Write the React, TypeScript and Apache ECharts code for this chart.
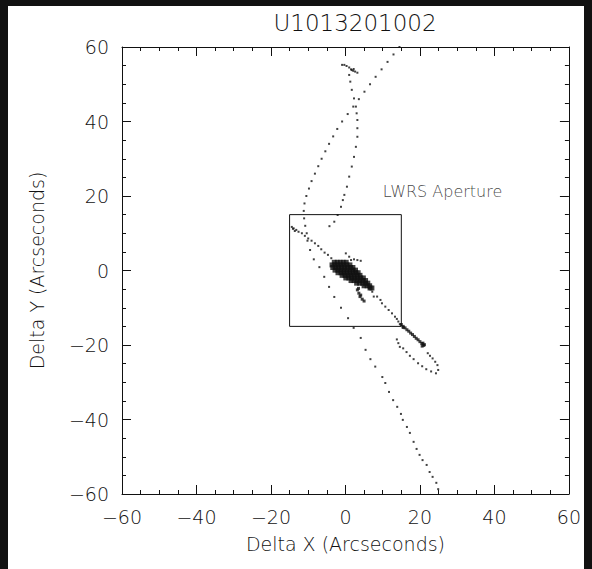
import React, { useEffect, useRef } from "react";
import * as echarts from "echarts";

const TITLE = "U1013201002";
const X_NAME = "Delta X (Arcseconds)";
const Y_NAME = "Delta Y (Arcseconds)";
const APERTURE_LABEL = "LWRS Aperture";
const AXIS_MIN = -60;
const AXIS_MAX = 60;
const AXIS_STEP = 20;
const APERTURE_HALF = 15;

// squiggle at the top
const topSquiggle: number[][] = [
  [-0.9, 55.2], [-0.3, 55.2], [0.3, 54.9], [1.0, 54.5], [1.5, 54.0], [2.1, 53.6],
  [2.6, 53.4], [3.2, 53.1], [1.7, 53.8], [2.2, 54.1],
];

// long dotted arc from top-right, bending left, down to bottom
const arcA: number[][] = [
  [14.5, 60.0], [12.9, 58.0], [11.3, 56.0], [9.7, 54.0], [8.1, 52.0], [6.6, 50.0],
  [5.1, 48.0], [3.6, 46.0], [2.1, 44.0], [0.6, 42.0], [-0.9, 40.0], [-2.2, 38.0],
  [-3.3, 36.0], [-4.4, 34.0], [-5.4, 32.0], [-6.4, 30.0], [-7.3, 28.0], [-8.2, 26.0],
  [-9.1, 24.0], [-9.8, 22.0], [-10.5, 20.0], [-11.0, 18.0], [-11.2, 16.0], [-11.1, 14.0],
  [-10.8, 12.0], [-10.4, 10.0], [-10.2, 8.0], [-9.5, 5.5], [-8.5, 3.0], [-7.0, 0.9],
  [-5.7, -1.7], [-4.4, -4.4], [-3.0, -7.1], [-1.2, -10.0], [0.7, -12.8], [2.2, -15.4],
  [4.1, -18.1], [5.4, -21.3], [6.7, -23.8], [8.0, -25.8], [9.9, -28.6], [10.7, -30.2],
  [11.7, -32.6], [12.8, -34.8], [13.9, -36.6], [14.9, -38.5], [15.4, -40.1], [16.5, -42.0],
  [17.3, -43.6], [18.3, -46.0], [19.1, -47.9], [19.9, -49.5], [20.7, -50.9], [21.8, -52.2],
  [22.6, -54.1], [23.4, -55.4], [24.4, -57.0], [24.9, -58.7],
];

// dotted line from the top squiggle down into the aperture
const arcB: number[][] = [
  [1.0, 52.5], [1.3, 50.7], [1.7, 48.5], [2.3, 46.2], [2.8, 44.0], [3.0, 42.2],
  [3.2, 40.4], [3.2, 38.2], [3.2, 35.9], [2.8, 33.2], [2.3, 30.5], [1.7, 27.9],
  [1.0, 25.2], [0.4, 22.5], [-0.3, 20.3], [-0.7, 18.9], [-1.2, 17.1], [-2.1, 14.9],
  [-3.0, 13.1], [-4.3, 11.9],
];

// arrow and diagonal from aperture corner into the core
const diagIn: number[][] = [
  [-14.4, 11.7], [-14.1, 11.2], [-13.9, 11.3], [-13.6, 10.6], [-13.2, 10.9], [-12.6, 10.4],
  [-11.7, 10.0], [-10.9, 9.3], [-10.0, 8.6], [-9.1, 8.0], [-8.2, 7.3], [-7.3, 6.6],
  [-6.5, 5.7], [-5.6, 4.8], [-4.7, 4.2], [-3.8, 3.3],
];

// dense core of the pointing
const core: number[][] = [
  [-3.0, 2.2], [-2.2, 2.2], [-1.4, 2.2], [-0.6, 2.2], [0.2, 2.2],
  [-3.6, 1.5], [-2.8, 1.5], [-2.0, 1.5], [-1.2, 1.5], [-0.4, 1.5], [0.4, 1.5], [1.2, 1.5],
  [-3.4, 0.8], [-2.6, 0.8], [-1.8, 0.8], [-1.0, 0.8], [-0.2, 0.8], [0.6, 0.8], [1.4, 0.8], [2.0, 0.8],
  [-2.8, 0.1], [-2.0, 0.1], [-1.2, 0.1], [-0.4, 0.1], [0.4, 0.1], [1.2, 0.1], [2.0, 0.1], [2.7, 0.1],
  [-2.0, -0.6], [-1.2, -0.6], [-0.4, -0.6], [0.4, -0.6], [1.2, -0.6], [2.0, -0.6], [2.8, -0.6], [3.4, -0.6],
  [-0.9, -1.3], [-0.1, -1.3], [0.7, -1.3], [1.5, -1.3], [2.3, -1.3], [3.1, -1.3], [3.9, -1.3],
  [0.1, -2.0], [0.9, -2.0], [1.7, -2.0], [2.5, -2.0], [3.3, -2.0], [4.1, -2.0], [4.8, -2.0],
  [1.5, -2.7], [2.3, -2.7], [3.1, -2.7], [3.9, -2.7], [4.7, -2.7], [5.4, -2.7],
  [3.0, -3.4], [3.8, -3.4], [4.6, -3.4], [5.4, -3.4], [6.0, -3.4],
  [5.0, -4.1], [5.8, -4.1], [6.5, -4.1],
  [6.6, -4.7], [7.1, -4.7],
];

// small features near the core
const wing: number[][] = [
  [0.1, 4.6], [1.0, 3.7], [1.5, 2.8], [2.3, 3.0], [3.2, 2.8], [4.1, 2.6],
];
const tailBelow: number[][] = [
  [3.5, -4.8], [3.2, -5.2], [3.6, -6.1], [4.1, -6.6], [3.9, -7.0], [4.5, -7.7], [5.0, -8.2],
];

// trail from core to aperture corner
const trailOut: number[][] = [
  [6.3, -4.8], [7.2, -5.7], [7.6, -7.0], [8.5, -7.0], [9.4, -7.9], [9.8, -8.8],
  [10.7, -9.7], [11.6, -10.6], [12.5, -11.5], [13.3, -12.4], [13.8, -13.0], [14.2, -13.7],
  [14.6, -14.4],
];

// heavy segment ending in an arrow head
const heavyOut: number[][] = [
  [15.0, -14.5], [15.5, -15.0], [15.5, -15.3], [16.0, -15.4], [16.5, -15.9], [17.0, -16.3],
  [17.5, -16.8], [18.0, -17.2], [18.5, -17.7], [19.0, -18.2], [19.5, -18.6], [20.0, -19.1],
  [20.5, -19.6], [21.0, -20.1], [20.8, -19.5], [21.2, -19.9], [20.6, -20.3],
];

// dotted loop at lower right
const loop: number[][] = [
  [13.8, -18.5], [14.2, -19.5], [14.6, -20.5], [15.5, -20.9], [16.4, -21.9], [17.3, -22.9],
  [18.3, -23.8], [19.5, -24.9], [20.6, -25.7], [21.7, -26.5], [23.0, -27.1], [24.3, -27.6],
  [24.9, -26.7], [24.7, -25.4], [24.1, -24.5], [23.4, -23.6], [22.7, -22.9], [22.1, -22.2],
];

const aperture: number[][] = [
  [-APERTURE_HALF, -APERTURE_HALF], [APERTURE_HALF, -APERTURE_HALF],
  [APERTURE_HALF, APERTURE_HALF], [-APERTURE_HALF, APERTURE_HALF],
  [-APERTURE_HALF, -APERTURE_HALF],
];
const apertureLabelPos: number[] = [10.0, 21.1];

const FONT = "DejaVu Sans";
const INK = "#111";

function fmt(v: number) {
  return String(v).replace("-", "\u2212");
}

function axisBase(pos: string, labels: boolean, name?: string, nameGap?: number) {
  return {
    type: "value",
    min: AXIS_MIN,
    max: AXIS_MAX,
    interval: AXIS_STEP,
    position: pos,
    axisLine: { show: true, onZero: false, lineStyle: { color: INK, width: 1 } },
    axisTick: { show: true, inside: true, length: 9, lineStyle: { color: INK, width: 1 } },
    minorTick: { show: true, splitNumber: 4, length: 4, lineStyle: { color: INK, width: 1 } },
    splitLine: { show: false },
    axisLabel: {
      show: labels,
      fontFamily: FONT,
      fontSize: 19,
      fontWeight: 300,
      color: INK,
      margin: 13,
      formatter: fmt,
    },
    name: name,
    nameLocation: "middle",
    nameGap: nameGap,
    nameTextStyle: { fontFamily: FONT, fontSize: 19, fontWeight: 300, color: INK },
  };
}

function dots(data: number[][], size: number) {
  return {
    type: "scatter",
    data,
    symbol: "rect",
    symbolSize: size,
    itemStyle: { color: INK },
    silent: true,
  };
}

export default function App() {
  const ref = useRef<HTMLDivElement>(null);
  useEffect(() => {
    if (!ref.current) return;
    const chart = echarts.init(ref.current, null, { renderer: "svg" });
    chart.setOption({
      animation: false,
      backgroundColor: "#fff",
      title: {
        text: TITLE,
        left: 342,
        top: 0,
        textAlign: "center",
        textStyle: { fontFamily: FONT, fontSize: 23, fontWeight: 300, color: INK },
      },
      grid: { left: 114, right: 7, top: 41, bottom: 75, containLabel: false },
      xAxis: [axisBase("bottom", true, X_NAME, 40), axisBase("top", false)],
      yAxis: [axisBase("left", true, Y_NAME, 76), axisBase("right", false)],
      series: [
        {
          type: "line",
          data: aperture,
          symbol: "none",
          lineStyle: { color: INK, width: 1 },
          silent: true,
        },
        dots(topSquiggle, 2),
        dots(arcA, 2),
        dots(arcB, 2),
        dots(diagIn, 2),
        dots(core, 5),
        dots(wing, 2),
        dots(tailBelow, 3),
        dots(trailOut, 2),
        dots(heavyOut, 3),
        dots(loop, 2),
        {
          type: "scatter",
          data: [apertureLabelPos],
          symbolSize: 0,
          silent: true,
          label: {
            show: true,
            position: "right",
            distance: 0,
            formatter: APERTURE_LABEL,
            fontFamily: FONT,
            fontSize: 16,
            fontWeight: 300,
            color: INK,
          },
        },
      ],
    });
    return () => chart.dispose();
  }, []);
  return (
    <div style={{ position: "absolute", left: 0, top: 0, width: 592, height: 569, background: "#111" }}>
      <div ref={ref} style={{ position: "absolute", left: 8, top: 6, width: 576, height: 563 }} />
    </div>
  );
}
